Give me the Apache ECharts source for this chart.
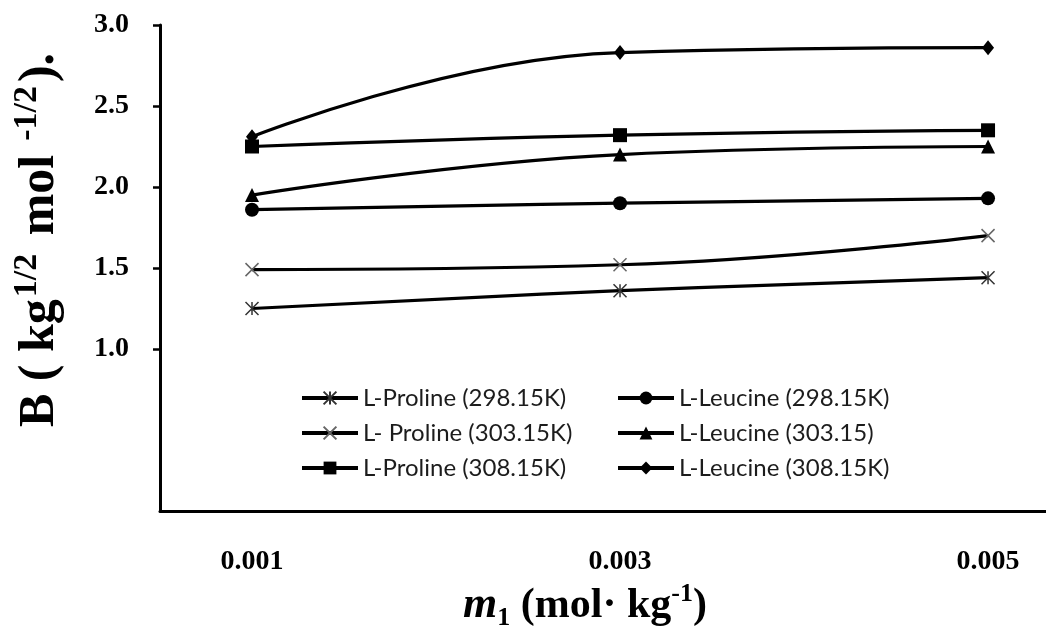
<!DOCTYPE html>
<html>
<head>
<meta charset="utf-8">
<script src="https://cdn.jsdelivr.net/npm/echarts@6/dist/echarts.min.js"></script>
<style>
html,body{margin:0;padding:0;background:#fff;}
#chart{width:1046px;height:628px;}
</style>
</head>
<body>
<div id="chart"></div>
<script>
// ---- data ----
const xValues = [0.001, 0.003, 0.005];
const xTickLabels = [0.001, 0.003, 0.005];
const yTickLabels = [1.0, 1.5, 2.0, 2.5, 3.0];
const seriesNames = [
  'L-Proline (298.15K)', 'L- Proline (303.15K)', 'L-Proline (308.15K)',
  'L-Leucine (298.15K)', 'L-Leucine (303.15)', 'L-Leucine (308.15K)'
];
const proline298 = [1.25, 1.36, 1.44];
const proline303 = [1.49, 1.52, 1.70];
const proline308 = [2.25, 2.32, 2.35];
const leucine298 = [1.86, 1.90, 1.93];
const leucine303 = [1.95, 2.20, 2.25];
const leucine308 = [2.31, 2.83, 2.86];

const seriesValues = [proline298, proline303, proline308, leucine298, leucine303, leucine308];

const symbolDefs = [
  {symbol: 'path://M0,0L10,10M10,0L0,10M5,0L5,10', size: 13, itemStyle: {color: '#333', borderColor: '#333', borderWidth: 1.5}},
  {symbol: 'path://M0,0L10,10M10,0L0,10', size: 13, itemStyle: {color: '#666', borderColor: '#666', borderWidth: 1.5}},
  {symbol: 'rect', size: 14, itemStyle: {color: '#000'}},
  {symbol: 'circle', size: 14, itemStyle: {color: '#000'}},
  {symbol: 'triangle', size: 14, itemStyle: {color: '#000'}},
  {symbol: 'diamond', size: [12, 15], itemStyle: {color: '#000'}}
];

const series = seriesNames.map((name, i) => ({
  name: name,
  type: 'line',
  smooth: 0.45,
  data: xValues.map((x, j) => [x, seriesValues[i][j]]),
  symbol: symbolDefs[i].symbol,
  symbolSize: symbolDefs[i].size,
  itemStyle: symbolDefs[i].itemStyle,
  lineStyle: {color: '#000', width: 3.2},
  z: 3
}));

const serif = '"Liberation Serif", "Times New Roman", serif';
const legendText = {fontFamily: 'Lato, "Noto Sans", sans-serif', fontSize: 24, color: '#1c1c1c'};

const chart = echarts.init(document.getElementById('chart'), null, {renderer: 'canvas'});
chart.setOption({
  animation: false,
  backgroundColor: '#fff',
  grid: {left: 160, right: 0, top: 25, bottom: 117, containLabel: false},
  xAxis: {
    type: 'value',
    min: 0.0005,
    max: 0.005315,
    splitLine: {show: false},
    axisLine: {show: true, onZero: false, lineStyle: {color: '#000', width: 3}},
    axisTick: {show: false},
    axisLabel: {
      customValues: xTickLabels,
      margin: 37,
      fontFamily: serif, fontWeight: 'bold', fontSize: 28, color: '#000',
      formatter: v => Number(v).toFixed(3)
    }
  },
  yAxis: {
    type: 'value',
    min: 0,
    max: 3,
    interval: 0.5,
    splitLine: {show: false},
    axisLine: {show: true, lineStyle: {color: '#000', width: 3}},
    axisTick: {show: true, customValues: yTickLabels, length: 7, lineStyle: {color: '#000', width: 2.5}},
    axisLabel: {
      customValues: yTickLabels,
      margin: 31,
      fontFamily: serif, fontWeight: 'bold', fontSize: 28, color: '#000',
      formatter: v => Number(v).toFixed(1)
    }
  },
  legend: [
    {
      data: seriesNames.slice(0, 3),
      orient: 'vertical', left: 295, top: 381,
      itemWidth: 56, itemHeight: 16, itemGap: 11,
      lineStyle: {width: 4},
      textStyle: legendText
    },
    {
      data: seriesNames.slice(3, 6),
      orient: 'vertical', left: 611, top: 381,
      itemWidth: 56, itemHeight: 16, itemGap: 11,
      lineStyle: {width: 4},
      textStyle: legendText
    }
  ],
  graphic: [
    {
      type: 'text',
      x: 40, y: 240,
      rotation: Math.PI / 2,
      style: {
        text: '{b|B ( kg}{s|1/2}{b| mol}{s2|-1/2}{b|).}',
        align: 'center',
        verticalAlign: 'middle',
        rich: {
          b: {fontFamily: serif, fontWeight: 'bold', fontSize: 50, lineHeight: 60, fill: '#000'},
          s: {fontFamily: serif, fontWeight: 'bold', fontSize: 34, lineHeight: 38, verticalAlign: 'top', padding: [0, 6, 0, 2], fill: '#000'},
          s2: {fontFamily: serif, fontWeight: 'bold', fontSize: 34, lineHeight: 38, verticalAlign: 'top', padding: [0, 4, 0, 14], fill: '#000'}
        }
      }
    },
    {
      type: 'text',
      x: 585, y: 606,
      style: {
        text: '{i|m}{sub|1}{b| (mol· kg}{sup|-1}{b|)}',
        align: 'center',
        verticalAlign: 'middle',
        rich: {
          i: {fontFamily: serif, fontWeight: 'bold', fontStyle: 'italic', fontSize: 44, lineHeight: 50, fill: '#000'},
          b: {fontFamily: serif, fontWeight: 'bold', fontSize: 42, lineHeight: 50, fill: '#000'},
          sub: {fontFamily: serif, fontWeight: 'bold', fontSize: 26, lineHeight: 30, verticalAlign: 'bottom', fill: '#000'},
          sup: {fontFamily: serif, fontWeight: 'bold', fontSize: 26, lineHeight: 30, verticalAlign: 'top', fill: '#000'}
        }
      }
    }
  ],
  series: series
});
</script>
</body>
</html>
